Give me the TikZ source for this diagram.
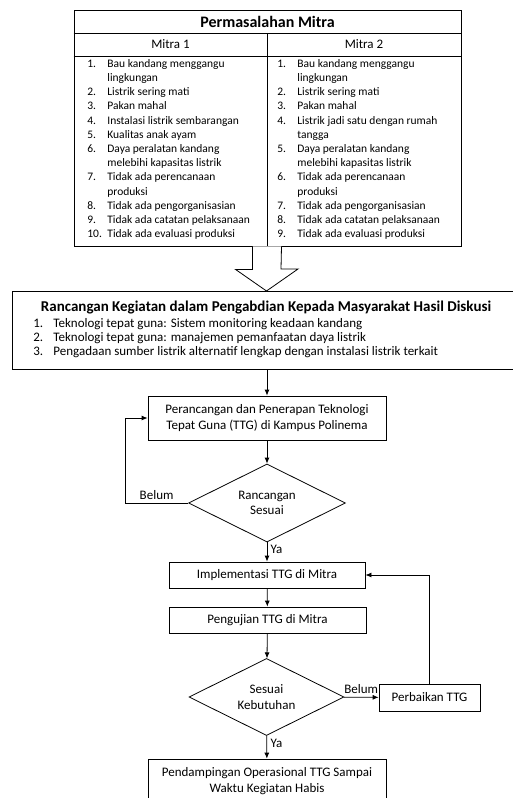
\documentclass[tikz,border=0pt]{standalone}
\usepackage{fontspec}
\setmainfont{Carlito}
\usetikzlibrary{shapes.geometric,arrows.meta}

\begin{document}
\begin{tikzpicture}[x=1pt, y=-1pt, line width=0.8pt, >={Latex[length=6pt,width=5pt]},
		font=\fontsize{13}{15.5}\selectfont,
		kotak/.style={draw, rectangle, align=center, inner sep=2pt},
		keputusan/.style={draw, diamond, aspect=2, inner sep=1pt, align=center},
		daftar/.style={anchor=north west, inner sep=0pt, font=\fontsize{11.5}{14.2}\selectfont}]
	\useasboundingbox (0,0) rectangle (512,798);

	% tabel permasalahan
	\node (tabel) [draw, rectangle, minimum width=387pt, minimum height=236pt, inner sep=0pt] at (267.5,128) {};
	\draw (tabel.west |- 0,33) -- (tabel.east |- 0,33);
	\draw (tabel.west |- 0,56) -- (tabel.east |- 0,56);
	\draw (267,33) -- (tabel.south -| 267,0);
	\node (judul) [font=\fontsize{16}{19}\selectfont\bfseries] at (267.5,21.5) {Permasalahan Mitra};
	\node (mitraA) at (170.5,44.5) {Mitra 1};
	\node (mitraB) at (364,44.5) {Mitra 2};
	\node (daftarA) [daftar] at (87,57) {%
		\begin{tabular}{@{}p{20pt}@{}l@{}}
			1. & Bau kandang menggangu\\
			   & lingkungan\\
			2. & Listrik sering mati\\
			3. & Pakan mahal\\
			4. & Instalasi listrik sembarangan\\
			5. & Kualitas anak ayam\\
			6. & Daya peralatan kandang\\
			   & melebihi kapasitas listrik\\
			7. & Tidak ada perencanaan\\
			   & produksi\\
			8. & Tidak ada pengorganisasian\\
			9. & Tidak ada catatan pelaksanaan\\
			10. & Tidak ada evaluasi produksi
		\end{tabular}};
	\node (daftarB) [daftar] at (277,57) {%
		\begin{tabular}{@{}p{20pt}@{}l@{}}
			1. & Bau kandang menggangu\\
			   & lingkungan\\
			2. & Listrik sering mati\\
			3. & Pakan mahal\\
			4. & Listrik jadi satu dengan rumah\\
			   & tangga\\
			5. & Daya peralatan kandang\\
			   & melebihi kapasitas listrik\\
			6. & Tidak ada perencanaan\\
			   & produksi\\
			7. & Tidak ada pengorganisasian\\
			8. & Tidak ada catatan pelaksanaan\\
			9. & Tidak ada evaluasi produksi
		\end{tabular}};

	% rancangan kegiatan
	\node (rancangan) [draw, rectangle, anchor=north west, minimum width=520pt, minimum height=78pt] at (12,291) {};
	\node (judulR) [font=\fontsize{15}{17}\selectfont\bfseries] at (266,308) {Rancangan Kegiatan dalam Pengabdian Kepada Masyarakat Hasil Diskusi};
	\node (daftarR) [daftar, font=\fontsize{13}{14}\selectfont] at (33,317.5) {%
		\begin{tabular}{@{}p{20pt}@{}l@{}}
			1. & Teknologi tepat guna: Sistem monitoring keadaan kandang\\
			2. & Teknologi tepat guna: manajemen pemanfaatan daya listrik\\
			3. & Pengadaan sumber listrik alternatif lengkap dengan instalasi listrik terkait
		\end{tabular}};

	% panah besar
	\draw [fill=white] ([xshift=-15pt]tabel.south) -- ++(0,23) -- ++(-17,0) -- (266.5,291) -- (298,269) -- ++(-17,0) -- ([xshift=14pt]tabel.south);

	% alur
	\node (perancangan) [kotak, minimum width=238pt, minimum height=44pt] at (267,418) {Perancangan dan Penerapan Teknologi\\Tepat Guna (TTG) di Kampus Polinema};
	\node (cekA) [keputusan, minimum width=157pt, minimum height=78pt] at (267,503) {Rancangan\\Sesuai};
	\node (implementasi) [kotak, minimum width=196pt, minimum height=26pt] at (267,575) {Implementasi TTG di Mitra};
	\node (pengujian) [kotak, minimum width=197pt, minimum height=26pt] at (267.5,620) {Pengujian TTG di Mitra};
	\node (cekB) [keputusan, minimum width=155pt, minimum height=77pt] at (266.5,697) {Sesuai\\Kebutuhan};
	\node (perbaikan) [kotak, minimum width=101pt, minimum height=27pt] at (429.5,697.5) {Perbaikan TTG};
	\node (pendampingan) [kotak, minimum width=238pt, minimum height=44pt] at (267,781) {Pendampingan Operasional TTG Sampai\\Waktu Kegiatan Habis};

	\draw [->] (perancangan.north |- rancangan.south) -- (perancangan);
	\draw [->] (perancangan) -- (cekA);
	\draw [->] (cekA.west) -- node[above] {Belum} ++(-63,0) |- (perancangan.west);
	\draw [->] (cekA) -- node[right, pos=0.35] {Ya} (implementasi);
	\draw [->] (implementasi) -- (pengujian);
	\draw [->] (pengujian) -- (cekB);
	\draw [->] (cekB) -- node[above] {Belum} (perbaikan);
	\draw [->] (perbaikan) |- (implementasi);
	\draw [->] (cekB) -- node[right, pos=0.35] {Ya} (pendampingan);
\end{tikzpicture}
\end{document}
